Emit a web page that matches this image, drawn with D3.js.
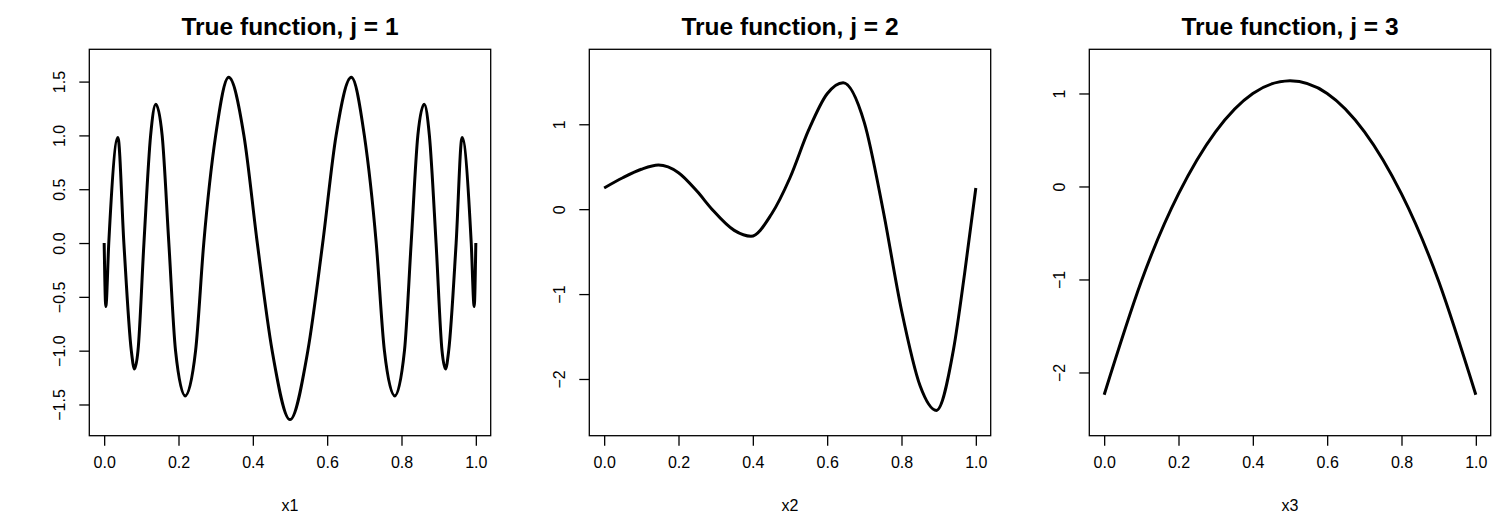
<!doctype html>
<html>
<head>
<meta charset="utf-8">
<style>
    body { margin: 0; background: #fff; }
    text { font-family: "Liberation Sans", Arial, sans-serif; fill: #000; }
</style>
<script src="https://d3js.org/d3.v7.min.js"></script>
</head>
<body>
<svg width="1500" height="525"></svg>
<script>

// values
var titles = ["True function, j = 1", "True function, j = 2", "True function, j = 3"];
var xLabels = ["x1", "x2", "x3"];
var xTicks = [0, 0.2, 0.4, 0.6, 0.8, 1.0];

var x1 = [0, 0.0044, 0.0124, 0.037, 0.053, 0.073, 0.0816, 0.091, 0.107, 0.125, 0.139, 0.156, 0.174,
          0.192, 0.218, 0.246, 0.268, 0.30, 0.335, 0.376, 0.412, 0.452, 0.5,
          0.548, 0.588, 0.624, 0.665, 0.70, 0.732, 0.754, 0.782, 0.808, 0.826, 0.844, 0.861, 0.875,
          0.893, 0.909, 0.9184, 0.927, 0.947, 0.963, 0.9876, 0.9956, 1];
var f1 = [0, -0.59, 0, 0.98, 0, -1.0, -1.17, -1.0, 0, 1.0, 1.29, 1.0, 0,
          -1.0, -1.42, -1.0, 0, 1.0, 1.54, 1.0, 0, -1.0, -1.64,
          -1.0, 0, 1.0, 1.54, 1.0, 0, -1.0, -1.42, -1.0, 0, 1.0, 1.29, 1.0,
          0, -1.0, -1.17, -1.0, 0, 0.98, 0, -0.59, 0];

var x2 = [0, 0.05, 0.1, 0.146, 0.2, 0.25, 0.29, 0.35, 0.395, 0.45, 0.5, 0.55, 0.6, 0.643,
          0.7, 0.75, 0.8, 0.85, 0.894, 0.94, 0.97, 1.0];
var f2 = [0.25, 0.37, 0.47, 0.52, 0.43, 0.21, 0.0, -0.25, -0.32, -0.06, 0.37, 0.93, 1.36, 1.49,
          1.02, 0.0, -1.19, -2.08, -2.37, -1.65, -0.75, 0.25];

var x3 = [0, 0.1, 0.2, 0.3, 0.4, 0.5, 0.6, 0.7, 0.8, 0.9, 1.0];
var f3 = [-2.24, -1.02, -0.08, 0.59, 1.0, 1.136, 1.0, 0.59, -0.08, -1.02, -2.24];

var yTicks1 = [-1.5, -1.0, -0.5, 0.0, 0.5, 1.0, 1.5];
var yTicks2 = [-2, -1, 0, 1];
var yTicks3 = [-2, -1, 0, 1];

var yLim1 = [-1.79, 1.80];
var yLim2 = [-2.668, 1.883];
var yLim3 = [-2.68, 1.475];

var panels = [
    { xs: x1, ys: f1, yTicks: yTicks1, yLim: yLim1, fmt: d3.format(".1f"), curve: d3.curveMonotoneX },
    { xs: x2, ys: f2, yTicks: yTicks2, yLim: yLim2, fmt: d3.format("d"), curve: d3.curveMonotoneX },
    { xs: x3, ys: f3, yTicks: yTicks3, yLim: yLim3, fmt: d3.format("d"), curve: d3.curveNatural }
];

var svg = d3.select("svg");
var boxLeft = [89.3, 589.3, 1089.3],
    boxW = 401.4,
    boxTop = 49.3,
    boxBottom = 435.7;

panels.forEach(function(p, i) {
    var g = svg.append("g").attr("transform", "translate(" + boxLeft[i] + ",0)");

    // x range 0..1 with R's 4% padding
    var x = d3.scaleLinear().domain([-0.04, 1.04]).range([0, boxW]);
    var y = d3.scaleLinear().domain(p.yLim).range([boxBottom, boxTop]);

    var line = d3.line()
        .x(function(d) { return x(d[0]); })
        .y(function(d) { return y(d[1]); })
        .curve(p.curve);

    g.append("path")
        .datum(d3.zip(p.xs, p.ys))
        .attr("d", line)
        .attr("fill", "none")
        .attr("stroke", "#000")
        .attr("stroke-width", 3)
        .attr("stroke-linejoin", "round");

    // box
    g.append("rect")
        .attr("x", 0).attr("y", boxTop)
        .attr("width", boxW).attr("height", boxBottom - boxTop)
        .attr("fill", "none").attr("stroke", "#000").attr("stroke-width", 1.3);

    // bottom axis
    var xa = g.append("g")
        .attr("transform", "translate(0," + boxBottom + ")")
        .call(d3.axisBottom(x).tickValues(xTicks).tickSize(10).tickPadding(22)
              .tickFormat(d3.format(".1f")));
    xa.select(".domain").remove();
    xa.selectAll(".tick line").attr("stroke", "#000").attr("stroke-width", 1.3);
    xa.selectAll("text").attr("font-size", "16px").attr("font-family", "Liberation Sans, Arial, sans-serif")
        .attr("dy", 0);

    // left axis, labels rotated like R
    var ya = g.append("g")
        .call(d3.axisLeft(y).tickValues(p.yTicks).tickSize(10).tickFormat(p.fmt));
    ya.select(".domain").remove();
    ya.selectAll(".tick line").attr("stroke", "#000").attr("stroke-width", 1.3);
    ya.selectAll("text")
        .attr("transform", "rotate(-90)")
        .attr("x", 0).attr("y", -24.3).attr("dy", 0)
        .attr("text-anchor", "middle")
        .attr("font-size", "16px").attr("font-family", "Liberation Sans, Arial, sans-serif");

    g.append("text")
        .attr("x", boxW / 2).attr("y", 35)
        .attr("text-anchor", "middle")
        .attr("font-size", "24.5px").attr("font-weight", "bold")
        .text(titles[i]);

    g.append("text")
        .attr("x", boxW / 2).attr("y", 511)
        .attr("text-anchor", "middle")
        .attr("font-size", "16px")
        .text(xLabels[i]);
});

</script>
</body>
</html>
